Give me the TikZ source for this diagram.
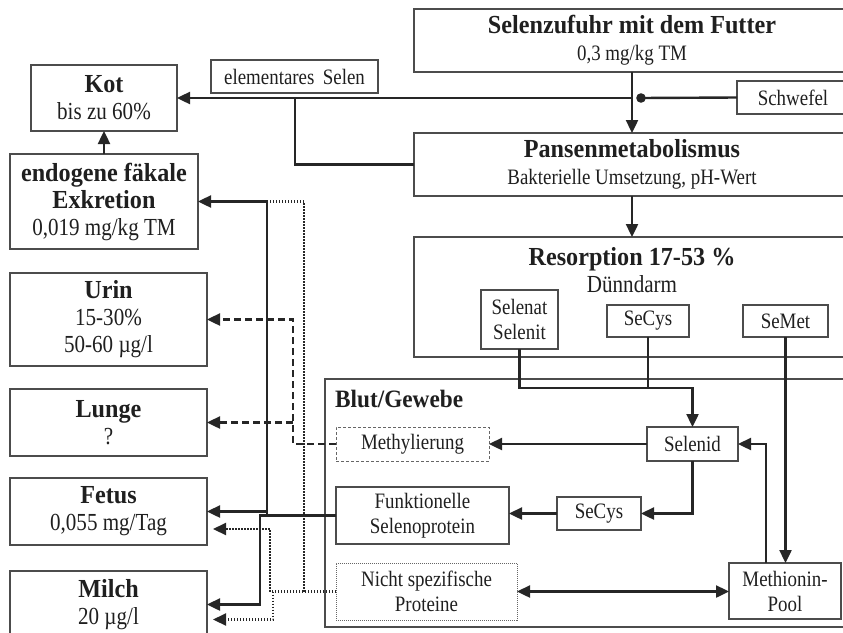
\documentclass[tikz,border=0pt]{standalone}
\usepackage{fontspec}
\setmainfont[FakeStretch=0.86]{Liberation Serif}
\newfontfamily\headfamily[FakeStretch=0.93]{Liberation Serif}
\usetikzlibrary{arrows.meta,calc}
\newcommand\boxhead{\fontsize{26}{28}\headfamily\bfseries}
\newcommand\boxtext{\fontsize{24.5}{27}\selectfont}
\newcommand\boxsmall{\fontsize{22}{25}\selectfont}
\begin{document}
\begin{tikzpicture}[x=1pt,y=-1pt,
  box/.style={draw=black!70, line width=1.3pt, anchor=north west, inner sep=0pt,
    outer sep=0pt, align=center, text=black!88, font=\boxtext},
  smallbox/.style={box, font=\boxsmall},
  flow/.style={draw=black!85, line width=2.4pt},
  tip/.style={-{Triangle[length=13pt,width=12pt]}},
  arr/.style={flow, tip},
  darr/.style={flow, {Triangle[length=13pt,width=12pt]}-{Triangle[length=13pt,width=12pt]}},
  dashflow/.style={arr, dash pattern=on 7pt off 4pt},
  dotflow/.style={flow, line width=2.1pt, dash pattern=on 1.5pt off 1.5pt},
  lbl/.style={text=black!88, inner sep=0pt}
]
\useasboundingbox (0,0) rectangle (843,632);

% excretion targets on the left
\node[box, minimum width=146pt, minimum height=66pt] (kot) at (31,65)
  {{\boxhead Kot}\\bis zu 60\%};
\node[box, minimum width=188pt, minimum height=95pt] (endo) at (10,154)
  {{\boxhead endogene fäkale}\\{\boxhead Exkretion}\\0,019 mg/kg TM};
\node[box, minimum width=197pt, minimum height=93pt] (urin) at (10,273)
  {{\boxhead Urin}\\15-30\%\\50-60 µg/l};
\node[box, minimum width=197pt, minimum height=67pt] (lunge) at (10,389)
  {{\boxhead Lunge}\\?};
\node[box, minimum width=197pt, minimum height=67pt] (fetus) at (10,478)
  {{\boxhead Fetus}\\0,055 mg/Tag};
\node[box, minimum width=197pt, minimum height=67pt] (milch) at (10,571)
  {{\boxhead Milch}\\20 µg/l};

% feed, rumen and absorption
\node[smallbox, minimum width=167pt, minimum height=33pt] (elem) at (211,60)
  {elementares\, Selen};
\node[box, minimum width=436pt, minimum height=63pt] (futter) at (414,9)
  {{\boxhead Selenzufuhr mit dem Futter}\\{\boxsmall 0,3 mg/kg TM}};
\node[smallbox, minimum width=112pt, minimum height=33pt] (schwefel) at (737,81)
  {Schwefel};
\node[box, minimum width=436pt, minimum height=63pt] (pansen) at (414,133)
  {{\boxhead Pansenmetabolismus}\\{\boxsmall Bakterielle Umsetzung, pH-Wert}};
\node[box, minimum width=436pt, minimum height=120pt] (resorp) at (414,237) {};
\node[lbl, anchor=base, font=\boxhead] (resorpT) at (632,265) {Resorption 17-53 \%};
\node[lbl, anchor=base, font=\boxtext] (resorpS) at (632,292) {Dünndarm};
\node[smallbox, minimum width=77pt, minimum height=59pt] (selenat) at (481,290)
  {Selenat\\Selenit};
\node[smallbox, minimum width=82pt, minimum height=32pt] (secysA) at (607,305) {SeCys};
\node[smallbox, minimum width=85pt, minimum height=32pt] (semet) at (743,305) {SeMet};

% blood and tissue
\node[box, minimum width=525pt, minimum height=248pt] (blut) at (325,379) {};
\node[lbl, anchor=base west, font=\fontsize{25}{27}\headfamily\bfseries] (blutT) at (335,407) {Blut/Gewebe};
\node[smallbox, minimum width=153pt, minimum height=34pt, draw=black!60, line width=0.9pt,
  dash pattern=on 3pt off 2pt] (methyl) at (336,427) {Methylierung};
\node[smallbox, minimum width=91pt, minimum height=34pt] (selenid) at (647,427) {Selenid};
\node[smallbox, minimum width=173pt, minimum height=57pt] (funk) at (336,487)
  {Funktionelle\\Selenoprotein};
\node[smallbox, minimum width=84pt, minimum height=33pt] (secysB) at (557,497) {SeCys};
\node[smallbox, minimum width=181pt, minimum height=57pt, draw=black!60, line width=0.9pt,
  dash pattern=on 1pt off 1pt] (nicht) at (336,563)
  {Nicht spezifische\\Proteine};
\node[smallbox, minimum width=112pt, minimum height=56pt] (pool) at (729,563)
  {Methionin-\\Pool};

% feed path
\draw[arr] (futter.south) -- (pansen.north);
\draw[arr] (pansen.south) -- (resorp.north);
\coordinate (feedJ) at (632,98);
\draw[arr] (feedJ) -- (kot.east);
\coordinate (sdot) at (641,98);
\draw[flow] (sdot) -- (schwefel.west);
\fill[black!85] (sdot) circle (4.8pt);
\coordinate (elemJ) at (295,98);
\draw[flow] (pansen.west) -| (elemJ);
\draw[arr] (endo.north -| kot.south) -- (kot.south);

% absorption into tissue
\coordinate (absJ) at (692.5,388);
\draw[arr] (selenat.south) |- (absJ) -- (selenid.north);
\draw[flow] (secysA.south) -- (secysA.south |- absJ);
\draw[arr] (selenid.west) -- (methyl.east);
\draw[arr] (selenid.south) |- (secysB.east);
\draw[arr] (secysB.west) -- (funk.east |- secysB.west);
\draw[arr] ([xshift=37pt]pool.north west) |- (selenid.east);
\draw[arr] (semet.south) -- (semet.south |- pool.north);
\draw[darr] (nicht.east) -- (pool.west |- nicht.east);

% methylated forms
\coordinate (mJ) at (293,444);
\draw[dashflow] (methyl.west) -- (mJ) |- (urin.east);
\draw[dashflow] (mJ |- lunge.east) -- (lunge.east);

% selenoproteins
\coordinate (fA) at (260,515.5);
\coordinate (fB) at (267,515.5);
\draw[arr] (funk.west) -- (fA) |- (milch.east);
\draw[arr] (fB) |- (endo.east);
\draw[arr] (fB |- fetus.east) -- (fetus.east);

% unspecific proteins
\coordinate (nA) at (270,591.5);
\coordinate (nB) at (273,591.5);
\coordinate (nC) at (304,591.5);
\coordinate (fetusD) at (207,529);
\coordinate (milchD) at (207,619.5);
\draw[dotflow] (nicht.west) -- (nA);
\draw[dotflow, tip, shorten >=6pt] (nA) |- (fetusD);
\draw[dotflow, tip, shorten >=6pt] (nB) |- (milchD);
\draw[dotflow] (nC) |- (fB |- endo.east);
\end{tikzpicture}
\end{document}
